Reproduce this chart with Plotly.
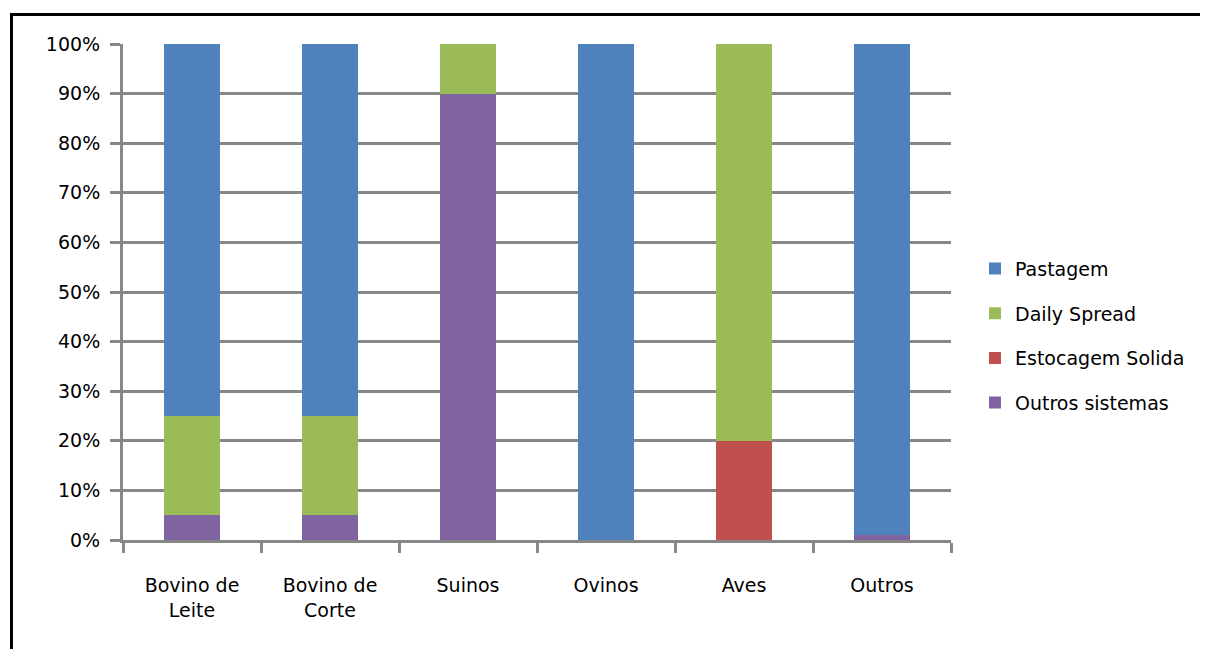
import plotly.graph_objects as go

categories = ["Bovino de<br>Leite", "Bovino de<br>Corte", "Suinos", "Ovinos", "Aves", "Outros"]
outros_sistemas = [5, 5, 90, 0, 0, 1]
estocagem_solida = [0, 0, 0, 0, 20, 0]
daily_spread = [20, 20, 10, 0, 80, 0]
pastagem = [75, 75, 0, 100, 0, 99]
y_ticks = [0, 10, 20, 30, 40, 50, 60, 70, 80, 90, 100]
y_tick_labels = [f"{v}%" for v in y_ticks]

series = [
    ("Outros sistemas", outros_sistemas, "#8064A2", 4),
    ("Estocagem Solida", estocagem_solida, "#C0504D", 3),
    ("Daily Spread", daily_spread, "#9BBB59", 2),
    ("Pastagem", pastagem, "#4F81BD", 1),
]

FONT = "DejaVu Sans"
GRID = "#878787"

fig = go.Figure()
for name, vals, color, rank in series:
    fig.add_trace(go.Bar(
        x=categories, y=vals, name=name, legendgroup=name, legendrank=rank,
        marker=dict(color=color, line=dict(width=0)),
        hoverinfo="skip",
    ))

# page body has an 8px default margin; compensate so the plot lands where the reference has it
OFF = 8
W, H = 1208, 649
L, T = 123 - OFF, 44 - OFF
pw, ph = 828, 496
R = W - L - pw
B = H - T - ph

def px_x(p):
    return (p - OFF - L) / pw

def px_y(p):
    return (T + ph - (p - OFF)) / ph

fig.update_layout(
    width=W, height=H,
    margin=dict(l=L, r=R, t=T, b=B, pad=0),
    paper_bgcolor="white", plot_bgcolor="white",
    barmode="stack", bargap=0.6,
    font=dict(family=FONT, size=19, color="black"),
    showlegend=True,
    legend=dict(
        x=px_x(975), xanchor="left", y=0.412, yanchor="middle",
        traceorder="grouped", tracegroupgap=17,
        font=dict(family=FONT, size=19, color="black"),
        bgcolor="rgba(0,0,0,0)", borderwidth=0,
    ),
    xaxis=dict(
        type="category", range=[-0.5, 5.5],
        showline=True, linecolor=GRID, linewidth=3,
        ticks="outside", tickson="boundaries", ticklen=10, tickwidth=3, tickcolor=GRID,
        showgrid=False, tickfont=dict(family=FONT, size=19, color="black"),
        ticklabelstandoff=26,
    ),
    yaxis=dict(
        range=[0, 100], tickvals=y_ticks, ticktext=y_tick_labels,
        showline=True, linecolor=GRID, linewidth=3,
        ticks="outside", ticklen=10, tickwidth=3, tickcolor=GRID,
        showgrid=True, gridcolor=GRID, gridwidth=3, zeroline=False,
        tickfont=dict(family=FONT, size=19, color="black"),
        ticklabelstandoff=6,
    ),
    shapes=[
        dict(type="rect", xref="paper", yref="paper",
             x0=px_x(11.5), x1=px_x(1230), y0=px_y(14.5), y1=px_y(680),
             line=dict(color="black", width=3), fillcolor="rgba(0,0,0,0)", layer="above"),
    ],
)

fig.write_html("out.html")
